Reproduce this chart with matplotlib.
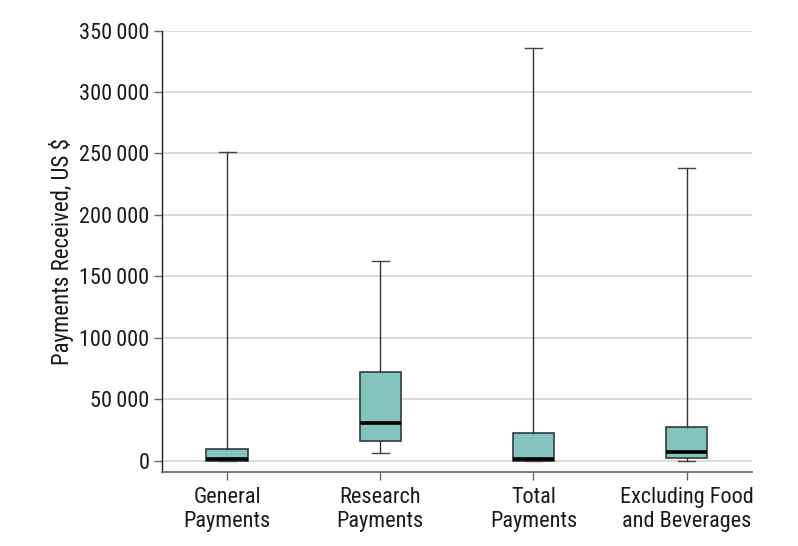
import matplotlib
matplotlib.use("Agg")
import matplotlib.pyplot as plt
from matplotlib.ticker import FuncFormatter

plt.rcParams['font.family'] = ['Roboto Condensed', 'Liberation Sans Narrow', 'Lato', 'DejaVu Sans']

# box statistics (US $)
categories = ["General\nPayments", "Research\nPayments", "Total\nPayments", "Excluding Food\nand Beverages"]
whislo = [0, 6300, 0, 0]
q1 = [0, 16000, 0, 2000]
med = [1100, 30600, 1100, 7100]
q3 = [9800, 72100, 22300, 27400]
whishi = [251000, 162400, 335500, 238500]
yticks = [0, 50000, 100000, 150000, 200000, 250000, 300000, 350000]

stats = []
for i in range(len(categories)):
    stats.append(dict(label=categories[i], whislo=whislo[i], q1=q1[i], med=med[i],
                      q3=q3[i], whishi=whishi[i], fliers=[]))

fig = plt.figure(figsize=(7.98, 5.46), dpi=100)
ax = fig.add_axes([0.203, 0.136, 0.739, 0.808])

ax.bxp(stats, positions=[1, 2, 3, 4], widths=0.27, patch_artist=True,
       showfliers=False,
       boxprops=dict(facecolor='#85c3bf', edgecolor='#2e3d3d', linewidth=1.2),
       medianprops=dict(color='black', linewidth=2.6),
       whiskerprops=dict(color='#333333', linewidth=1.0),
       capprops=dict(color='#444444', linewidth=1.0),
       capwidths=0.11, zorder=3)

ax.set_xlim(0.575, 4.425)
ax.set_ylim(-9000, 350000)
ax.set_yticks(yticks)
ax.yaxis.set_major_formatter(FuncFormatter(lambda v, p: f"{int(v):,}".replace(",", "\u2009")))
ax.grid(axis='y', color='#d9d9d9', linewidth=1.3, zorder=0)
ax.set_axisbelow(True)

for s in ['top', 'right']:
    ax.spines[s].set_visible(False)
ax.spines['left'].set_color('#222222')
ax.spines['bottom'].set_color('#666666')
ax.spines['left'].set_linewidth(1.0)
ax.spines['bottom'].set_linewidth(1.2)

ax.tick_params(axis='y', length=6, width=1, color='#666666', labelsize=16, labelcolor='#1a1a1a', pad=3)
ax.tick_params(axis='x', length=6, width=1, color='#666666', labelsize=16, labelcolor='#1a1a1a', pad=5)

ax.set_ylabel("Payments Received, US $", fontsize=16.5, color='#1a1a1a', labelpad=4)

fig.savefig("out.png", dpi=100)
